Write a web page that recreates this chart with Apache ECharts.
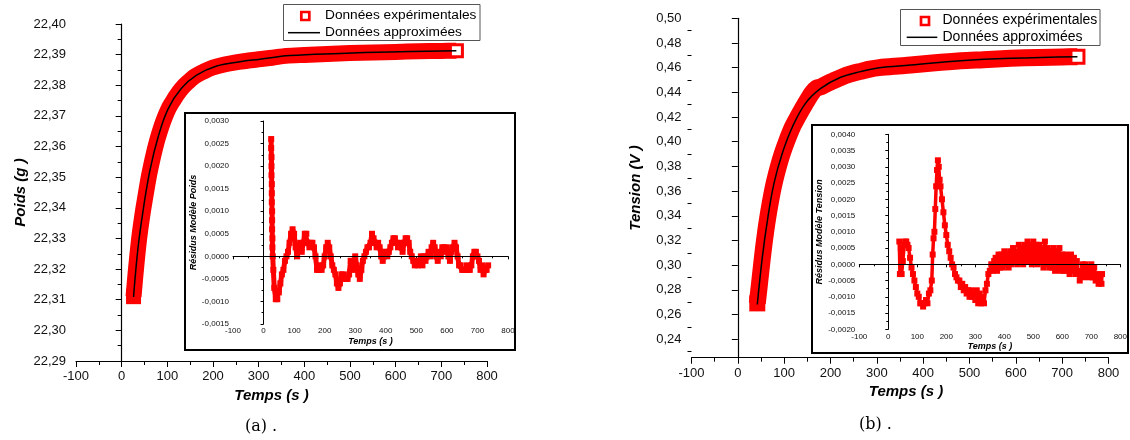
<!DOCTYPE html>
<html>
<head>
<meta charset="utf-8">
<script src="https://cdn.jsdelivr.net/npm/echarts@6/dist/echarts.min.js"></script>
<style>
  html, body { margin: 0; padding: 0; background: #fff; }
  #chart { width: 1130px; height: 440px; }
</style>
</head>
<body>
<div id="chart"></div>
<script>
// (a) Poids : données expérimentales [t (s), poids (g)]
const poidsExp = [
  [26, 22.3110], [30, 22.3178], [34, 22.3240], [38, 22.3296], [42, 22.3342], [46, 22.3383],
  [50, 22.3420], [55, 22.3464], [60, 22.3506], [65, 22.3542], [70, 22.3575], [75, 22.3605],
  [80, 22.3632], [87, 22.3665], [94, 22.3694], [102, 22.3722], [110, 22.3743], [120, 22.3767],
  [131, 22.3789], [145, 22.3810], [160, 22.3829], [180, 22.3845], [200, 22.3858], [225, 22.3868],
  [250, 22.3875], [275, 22.3880], [300, 22.3885], [330, 22.3890], [360, 22.3896], [400, 22.3899],
  [450, 22.3902], [500, 22.3905], [550, 22.3907], [600, 22.3909], [650, 22.3911], [700, 22.3912],
  [733, 22.3913]
];
// (a) Poids : modèle
const poidsFit = [
  [26, 22.3109], [36, 22.3272], [47, 22.3392], [62, 22.3523], [80, 22.3632], [102, 22.3724],
  [131, 22.3790], [164, 22.3833], [208, 22.3863], [259, 22.3877], [303, 22.3885], [368, 22.3897],
  [478, 22.3904], [587, 22.3909], [733, 22.3913]
];
// (a) résidus
const poidsRes = [
  [25, 0.0026], [25, 0.0024], [26, 0.0022], [26, 0.0020], [26, 0.0018], [27, 0.0016], [27, 0.0014],
  [27, 0.0012], [28, 0.0010], [28, 0.0008], [28, 0.0006], [29, 0.0004], [29, 0.0002], [30, 0.0000],
  [32, -0.0003], [35, -0.0007], [40, -0.00095], [45, -0.00095], [50, -0.0008], [55, -0.0006],
  [60, -0.0004], [65, -0.0003], [70, -0.0001], [75, 0.0000], [80, 0.0001], [85, 0.0003], [90, 0.0005],
  [95, 0.0006], [100, 0.0005], [105, 0.0002], [110, 0.0000], [115, 0.0002], [120, 0.0003], [125, 0.0001],
  [130, 0.0003], [135, 0.0005], [140, 0.0005], [145, 0.0003], [150, 0.0002], [155, 0.0003], [160, 0.0003],
  [165, 0.0002], [170, 0.0000], [175, -0.0003], [180, -0.0003], [185, -0.0002], [190, -0.0003],
  [195, -0.0002], [200, 0.0000], [205, 0.0002], [210, 0.0003], [215, 0.0002], [220, 0.0000],
  [225, -0.0002], [230, -0.0003], [235, -0.0004], [240, -0.0006], [245, -0.0007], [250, -0.0006],
  [255, -0.0004], [260, -0.0004], [265, -0.0005], [270, -0.0005], [275, -0.0005], [280, -0.0004],
  [285, -0.0001], [290, -0.0001], [295, -0.0003], [300, 0.0000], [305, -0.0002], [310, -0.0004],
  [315, -0.0005], [320, -0.0003], [325, -0.0001], [330, 0.0000], [335, 0.0001], [340, 0.0002],
  [345, 0.0002], [350, 0.0003], [355, 0.0005], [360, 0.0004], [365, 0.0003], [370, 0.0002],
  [375, 0.0003], [380, 0.0002], [385, 0.0000], [390, -0.0001], [395, 0.0001], [400, 0.0001],
  [405, 0.0000], [410, 0.0001], [415, 0.0002], [420, 0.0003], [425, 0.0004], [430, 0.0004],
  [435, 0.0003], [440, 0.0002], [445, 0.0003], [450, 0.0002], [455, 0.0001], [460, 0.0003],
  [465, 0.0004], [470, 0.0004], [475, 0.0003], [480, 0.0001], [485, 0.0000], [490, -0.0001],
  [495, -0.0002], [500, -0.0001], [505, -0.0002], [510, -0.0001], [515, 0.0000], [520, -0.0002],
  [525, 0.0000], [530, -0.0001], [535, 0.0000], [540, 0.0001], [545, 0.0000], [550, 0.0002],
  [555, 0.0003], [560, 0.0002], [565, 0.0000], [570, -0.0001], [575, 0.0001], [580, 0.0000],
  [585, 0.0002], [590, 0.0002], [595, 0.0001], [600, 0.0002], [605, 0.0000], [610, -0.0001],
  [615, 0.0001], [620, 0.0002], [625, 0.0003], [630, 0.0002], [635, 0.0000], [640, -0.0002],
  [645, -0.0002], [650, -0.0003], [655, -0.0003], [660, -0.0003], [665, -0.0002], [670, -0.0003],
  [675, -0.0003], [680, -0.0002], [685, 0.0000], [690, 0.0001], [695, 0.0001], [700, 0.0000],
  [705, -0.0001], [710, -0.0003], [715, -0.0002], [720, -0.0004], [725, -0.0003], [730, -0.0003],
  [735, -0.0002]
];

// (b) Tension : données expérimentales [t (s), tension (V)]
const tensionExp = [
  [42, 0.2690], [45, 0.2790], [50, 0.2960], [55, 0.3125], [60, 0.3270], [65, 0.3395], [70, 0.3505],
  [75, 0.3605], [80, 0.3690], [88, 0.3805], [96, 0.3905], [105, 0.4000], [118, 0.4120], [130, 0.4205],
  [146, 0.4310], [160, 0.4395], [170, 0.4435], [180, 0.4445], [195, 0.4475], [210, 0.4500],
  [222, 0.4520], [240, 0.4545], [265, 0.4570], [285, 0.4588], [305, 0.4600], [340, 0.4612],
  [373, 0.4621], [420, 0.4638], [481, 0.4656], [530, 0.4665], [589, 0.4676], [650, 0.4683],
  [700, 0.4687], [733, 0.4689]
];
const tensionFit = [
  [42, 0.2681], [53, 0.3067], [64, 0.3365], [78, 0.3662], [96, 0.3906], [118, 0.4121], [146, 0.4311],
  [179, 0.4432], [222, 0.4522], [265, 0.4568], [305, 0.4600], [373, 0.4621], [481, 0.4656],
  [589, 0.4676], [733, 0.4689]
];
const tensionRes = [
  [38, 0.0007], [40, -0.0003], [43, 0.0005], [46, -0.0003], [50, 0.0001], [55, 0.0006], [58, 0.0007],
  [62, 0.0007], [66, 0.0006], [70, 0.0005], [75, 0.0002], [80, -0.0001], [85, -0.0003], [90, -0.0005],
  [95, -0.0007], [100, -0.0009], [105, -0.0010], [110, -0.0012], [115, -0.0012], [120, -0.0013],
  [125, -0.0012], [130, -0.0011], [135, -0.0012], [140, -0.0009], [145, -0.0008], [150, -0.0005],
  [153, 0.0003], [156, 0.0008], [159, 0.0010], [162, 0.0017], [165, 0.0024], [168, 0.0029],
  [171, 0.0032], [174, 0.0030], [177, 0.0026], [180, 0.0024], [185, 0.0020], [190, 0.0016],
  [195, 0.0012], [200, 0.0009], [205, 0.0006], [210, 0.0004], [215, 0.0002], [220, 0.0000],
  [225, -0.0001], [230, -0.0003], [235, -0.0004], [240, -0.0005], [245, -0.0005], [250, -0.0007],
  [255, -0.0006], [260, -0.0008], [265, -0.0007], [270, -0.0009], [275, -0.0008], [280, -0.0010],
  [285, -0.0008], [290, -0.0010], [295, -0.0009], [300, -0.0011], [305, -0.0008], [310, -0.0012],
  [315, -0.0009], [320, -0.0012], [325, -0.0010], [330, -0.0012], [335, -0.0008], [340, -0.0006],
  [345, -0.0003], [350, -0.0002], [355, 0.0000], [360, -0.0002], [365, 0.0001], [370, 0.0002],
  [375, -0.0002], [380, 0.0003], [385, -0.0001], [390, 0.0003], [395, -0.0001], [400, 0.0004],
  [405, 0.0000], [410, 0.0003], [415, -0.0001], [420, 0.0004], [425, 0.0000], [430, 0.0005],
  [435, 0.0001], [440, 0.0004], [445, 0.0000], [450, 0.0006], [455, 0.0001], [460, 0.0005],
  [465, 0.0000], [470, 0.0006], [475, 0.0001], [480, 0.0007], [485, 0.0001], [490, 0.0006],
  [495, 0.0000], [500, 0.0007], [505, 0.0001], [510, 0.0006], [515, 0.0000], [520, 0.0006],
  [525, 0.0001], [530, 0.0005], [535, -0.0001], [540, 0.0007], [545, 0.0000], [550, 0.0005],
  [555, -0.0001], [560, 0.0004], [565, -0.0001], [570, 0.0005], [575, -0.0002], [580, 0.0004],
  [585, -0.0001], [590, 0.0005], [595, -0.0002], [600, 0.0003], [605, -0.0002], [610, 0.0003],
  [615, -0.0002], [620, 0.0002], [625, -0.0003], [630, 0.0003], [635, -0.0002], [640, 0.0002],
  [645, -0.0003], [650, 0.0001], [655, -0.0003], [660, -0.0005], [665, -0.0002], [670, 0.0000],
  [675, -0.0004], [680, 0.0000], [685, -0.0003], [690, -0.0001], [695, -0.0004], [700, 0.0000],
  [705, -0.0004], [710, -0.0001], [715, -0.0005], [720, -0.0003], [725, -0.0006], [730, -0.0004],
  [735, -0.0006], [737, -0.0003]
];

// graduations de l'axe Tension (l'axe commence a 0,225)
const tensionTicks = [0.24, 0.26, 0.28, 0.30, 0.32, 0.34, 0.36, 0.38, 0.40, 0.42, 0.44, 0.46, 0.48, 0.50];
const tensionMinor = [0.23, 0.25, 0.27, 0.29, 0.31, 0.33, 0.35, 0.37, 0.39, 0.41, 0.43, 0.45, 0.47, 0.49];

const RED = "#ff0000";
const FONT = "Liberation Sans";
const fmt = (d) => (v) => v.toFixed(d).replace(".", ",");

// bande rouge : carre plein au debut, carre creux a la fin (comme dans Origin)
function bandData(data, size) {
  const last = data.length - 1;
  return data.map((p, i) => {
    if (i === 0) return { value: p, symbolSize: size };
    if (i === last) return { value: p, symbolSize: size - 3, itemStyle: { color: "#fff", borderColor: RED, borderWidth: 3 } };
    return { value: p, symbolSize: 0 };
  });
}

function mainX(gridIndex, pad) {
  return {
    gridIndex: gridIndex, type: "value", min: -100, max: 800, interval: 100,
    name: "Temps (s )", nameLocation: "middle", nameGap: 23,
    nameTextStyle: { fontFamily: FONT, fontSize: 15, fontWeight: "bold", fontStyle: "italic", color: "#000", padding: pad },
    axisLine: { lineStyle: { color: "#000", width: 1.2 } },
    axisTick: { length: 6, lineStyle: { color: "#000" } },
    minorTick: { show: true, splitNumber: 2, length: 4, lineStyle: { color: "#000" } },
    axisLabel: { fontFamily: FONT, fontSize: 13, color: "#111", margin: 9 },
    splitLine: { show: false }
  };
}
function insetX(gridIndex) {
  return {
    gridIndex: gridIndex, type: "value", min: -100, max: 800, interval: 100,
    name: "Temps (s )", nameLocation: "middle", nameGap: 13,
    nameTextStyle: { fontFamily: FONT, fontSize: 9, fontWeight: "bold", fontStyle: "italic", color: "#000" },
    axisLine: { lineStyle: { color: "#000", width: 1 } },
    axisTick: { length: 3, lineStyle: { color: "#000" } },
    minorTick: { show: true, splitNumber: 2, length: 2, lineStyle: { color: "#000" } },
    axisLabel: { fontFamily: FONT, fontSize: 8, color: "#111", margin: 3 },
    splitLine: { show: false }
  };
}
function insetY(gridIndex, min, max, name, gap) {
  return {
    gridIndex: gridIndex, type: "value", min: min, max: max, interval: 0.0005,
    name: name, nameLocation: "middle", nameGap: gap,
    nameTextStyle: { fontFamily: FONT, fontSize: 9, fontWeight: "bold", fontStyle: "italic", color: "#000" },
    axisLine: { show: true, lineStyle: { color: "#000", width: 1 } },
    axisTick: { length: 3, lineStyle: { color: "#000" } },
    minorTick: { show: true, splitNumber: 2, length: 2, lineStyle: { color: "#000" } },
    axisLabel: { fontFamily: FONT, fontSize: 8, color: "#111", margin: 4, formatter: fmt(4) },
    splitLine: { show: false }
  };
}

const chart = echarts.init(document.getElementById("chart"), null, { renderer: "canvas" });
chart.setOption({
  animation: false,
  backgroundColor: "#fff",
  grid: [
    { left: 76, top: 24, width: 411, height: 337 },
    { left: 691.5, top: 18.3, width: 417, height: 339.4 },
    { left: 233, top: 121, width: 275, height: 203 },
    { left: 859.3, top: 134.3, width: 265, height: 195 }
  ],
  xAxis: [mainX(0, [0, 20, 0, 0]), mainX(1, [0, 0, 0, 12]), insetX(2), insetX(3)],
  yAxis: [
    {
      gridIndex: 0, type: "value", min: 22.29, max: 22.40, interval: 0.01,
      name: "Poids (g )", nameLocation: "middle", nameGap: 48,
      nameTextStyle: { fontFamily: FONT, fontSize: 15, fontWeight: "bold", fontStyle: "italic", color: "#000" },
      axisLine: { show: true, lineStyle: { color: "#000", width: 1.2 } },
      axisTick: { length: 6, lineStyle: { color: "#000" } },
      minorTick: { show: true, splitNumber: 2, length: 4, lineStyle: { color: "#000" } },
      axisLabel: { fontFamily: FONT, fontSize: 13, color: "#111", margin: 10, formatter: fmt(2) },
      splitLine: { show: false }
    },
    {
      gridIndex: 1, type: "value", min: 0.225, max: 0.50, position: "left",
      name: "Tension (V )", nameLocation: "middle", nameGap: 48,
      nameTextStyle: { fontFamily: FONT, fontSize: 15, fontWeight: "bold", fontStyle: "italic", color: "#000" },
      axisLine: { show: true, lineStyle: { color: "#000", width: 1.2 } },
      axisTick: { length: 6, customValues: tensionTicks, lineStyle: { color: "#000" } },
      axisLabel: { fontFamily: FONT, fontSize: 13, color: "#111", margin: 10, customValues: tensionTicks, formatter: fmt(2) },
      splitLine: { show: false }
    },
    insetY(2, -0.0015, 0.0030, "Résidus Modèle Poids", 33),
    insetY(3, -0.0020, 0.0040, "Résidus Modèle Tension", 32),
    {
      // petites graduations de l'axe Tension
      gridIndex: 1, type: "value", min: 0.225, max: 0.50, position: "left", offset: 0,
      axisLine: { show: false },
      axisTick: { length: 4, customValues: tensionMinor, lineStyle: { color: "#000" } },
      axisLabel: { show: false },
      splitLine: { show: false }
    }
  ],
  series: [
    {
      name: "Données expérimentales", type: "line", xAxisIndex: 0, yAxisIndex: 0, z: 3,
      data: bandData(poidsExp, 15), smooth: 0.3,
      symbol: "rect", showSymbol: true,
      itemStyle: { color: RED },
      lineStyle: { color: RED, width: 16, join: "round" }
    },
    {
      name: "Données approximées", type: "line", xAxisIndex: 0, yAxisIndex: 0, z: 4,
      data: poidsFit, smooth: 0.4, showSymbol: false,
      lineStyle: { color: "#000", width: 1.5 }
    },
    {
      name: "Données expérimentales", type: "line", xAxisIndex: 1, yAxisIndex: 1, z: 3,
      data: bandData(tensionExp, 16), smooth: 0.3,
      symbol: "rect", showSymbol: true,
      itemStyle: { color: RED },
      lineStyle: { color: RED, width: 17, join: "round" }
    },
    {
      name: "Données approximées", type: "line", xAxisIndex: 1, yAxisIndex: 1, z: 4,
      data: tensionFit, smooth: 0.4, showSymbol: false,
      lineStyle: { color: "#000", width: 1.5 }
    },
    {
      type: "line", xAxisIndex: 2, yAxisIndex: 2, z: 3,
      data: poidsRes, symbol: "rect", symbolSize: 6, showSymbol: true,
      itemStyle: { color: RED },
      lineStyle: { color: RED, width: 5, join: "round" },
      markLine: {
        silent: true, symbol: "none", label: { show: false },
        lineStyle: { color: "#000", width: 1, type: "solid" },
        data: [{ yAxis: 0 }]
      }
    },
    {
      type: "line", xAxisIndex: 3, yAxisIndex: 3, z: 3,
      data: tensionRes, symbol: "rect", symbolSize: 6, showSymbol: true,
      itemStyle: { color: RED },
      lineStyle: { color: RED, width: 3.5, join: "round" },
      markLine: {
        silent: true, symbol: "none", label: { show: false },
        lineStyle: { color: "#000", width: 1, type: "solid" },
        data: [{ yAxis: 0 }]
      }
    }
  ],
  graphic: [
    // cadres des encarts
    { type: "rect", shape: { x: 185, y: 113, width: 330, height: 237 }, style: { fill: "transparent", stroke: "#000", lineWidth: 2 }, z: 1 },
    { type: "rect", shape: { x: 812, y: 125, width: 316, height: 228 }, style: { fill: "transparent", stroke: "#000", lineWidth: 2 }, z: 1 },
    // légende (a)
    { type: "rect", shape: { x: 283.5, y: 4.5, width: 196.5, height: 36 }, style: { fill: "#fff", stroke: "#555", lineWidth: 1 }, z: 10 },
    { type: "rect", shape: { x: 301.3, y: 12, width: 8, height: 8 }, style: { fill: "#fff", stroke: RED, lineWidth: 2.7 }, z: 11 },
    { type: "text", x: 325, y: 15.5, style: { text: "Données expérimentales", font: "13.7px 'Liberation Sans'", fill: "#000", verticalAlign: "middle" }, z: 11 },
    { type: "line", shape: { x1: 288, y1: 32.7, x2: 320, y2: 32.7 }, style: { stroke: "#000", lineWidth: 1.5 }, z: 11 },
    { type: "text", x: 325, y: 32.5, style: { text: "Données approximées", font: "13.7px 'Liberation Sans'", fill: "#000", verticalAlign: "middle" }, z: 11 },
    // légende (b)
    { type: "rect", shape: { x: 900.5, y: 9.5, width: 199.5, height: 36 }, style: { fill: "#fff", stroke: "#555", lineWidth: 1 }, z: 10 },
    { type: "rect", shape: { x: 921, y: 17, width: 8, height: 8 }, style: { fill: "#fff", stroke: RED, lineWidth: 2.7 }, z: 11 },
    { type: "text", x: 942.5, y: 20.5, style: { text: "Données expérimentales", font: "14px 'Liberation Sans'", fill: "#000", verticalAlign: "middle" }, z: 11 },
    { type: "line", shape: { x1: 906.7, y1: 37.3, x2: 937.3, y2: 37.3 }, style: { stroke: "#000", lineWidth: 1.5 }, z: 11 },
    { type: "text", x: 942.5, y: 37, style: { text: "Données approximées", font: "14px 'Liberation Sans'", fill: "#000", verticalAlign: "middle" }, z: 11 },
    // légendes des figures
    { type: "text", x: 245, y: 427, style: { text: "(a) .", font: "16px 'DejaVu Serif'", fill: "#000", verticalAlign: "middle" } },
    { type: "text", x: 859, y: 425, style: { text: "(b) .", font: "16px 'DejaVu Serif'", fill: "#000", verticalAlign: "middle" } }
  ]
});
</script>
</body>
</html>
